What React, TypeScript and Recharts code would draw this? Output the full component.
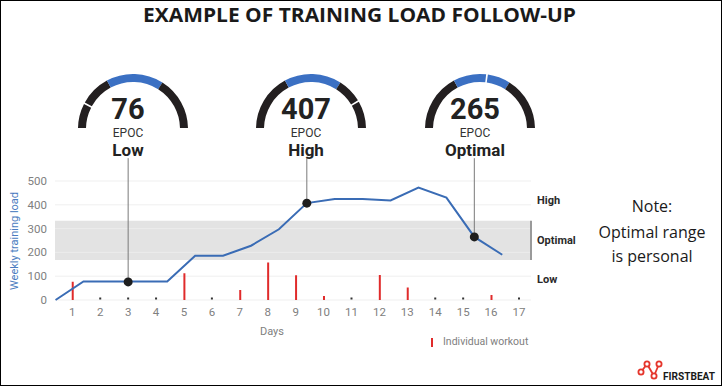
import React from "react";
import {
  ComposedChart,
  Line,
  Bar,
  Scatter,
  XAxis,
  YAxis,
  CartesianGrid,
  ReferenceArea,
  ReferenceLine,
  PieChart,
  Pie,
  Cell,
} from "recharts";

// --- data ---
const days = [1, 2, 3, 4, 5, 6, 7, 8, 9, 10, 11, 12, 13, 14, 15, 16, 17];
const workouts = [77, 0, 0, 0, 112, 0, 42, 158, 104, 17, 0, 105, 53, 0, 0, 21, 0];
const loadDays = [0.4, 1.4, 2.4, 3.4, 4.4, 5.4, 6.4, 7.4, 8.4, 9.4, 10.4, 11.4, 12.4, 13.4, 14.4, 15.4, 16.4];
const weeklyLoad = [0, 78, 78, 78, 78, 186, 186, 228, 297, 407, 424, 424, 418, 472, 430, 265, 190];
const yTicks = [0, 100, 200, 300, 400, 500];
const optimalRange = [168, 333];
const gaugeValues = [76, 407, 265];
const gaugeDays = [3, 9.4, 15.4];
const gaugeLabels = ["Low", "High", "Optimal"];
const zoneLabels = ["High", "Optimal", "Low"];
const gaugeMax = 490;

const xDomain = [0.38, 17.43];
const connectorTop = 596;

const BLUE = "#3a6cb5";
const GAUGE_BLUE = "#3b70c3";
const DARK = "#231f20";
const RED = "#e02b2b";
const TICK = "#808080";

const rows = [
  ...days.map((d, i) => ({ day: d, workout: workouts[i] > 0 ? workouts[i] : undefined })),
  ...loadDays.map((d, i) => ({ day: d, load: weeklyLoad[i] })),
].sort((a, b) => a.day - b.day);

const restDots = days.filter((_, i) => workouts[i] === 0).map((d) => ({ day: d, rest: 0 }));
const markers = gaugeDays.map((d, i) => ({ day: d, epoc: gaugeValues[i] }));

function gaugeSlices(value: number) {
  const bounds = [0, optimalRange[0], optimalRange[1], gaugeMax];
  const colors = [DARK, GAUGE_BLUE, DARK];
  const gap = 5;
  const out: { size: number; color: string }[] = [];
  for (let z = 0; z < 3; z++) {
    const a = bounds[z];
    const b = bounds[z + 1];
    if (value > a && value < b) {
      out.push({ size: value - gap / 2 - a, color: colors[z] });
      out.push({ size: gap, color: "transparent" });
      out.push({ size: b - value - gap / 2, color: colors[z] });
    } else {
      out.push({ size: b - a, color: colors[z] });
    }
  }
  return out;
}

const gaugeX = [128, 306, 475];
const gaugeY = 124;

function Txt({ x, y, children, style }: any) {
  return (
    <div
      style={{
        position: "absolute",
        left: x,
        top: y,
        transform: "translate(-50%, -50%)",
        whiteSpace: "nowrap",
        lineHeight: 1,
        ...style,
      }}
    >
      {children}
    </div>
  );
}

export default function App() {
  return (
    <div
      style={{
        position: "absolute",
        left: 0,
        top: 0,
        width: 722,
        height: 386,
        background: "#fff",
        fontFamily: "Roboto, sans-serif",
        overflow: "hidden",
      }}
    >
      <svg style={{ position: "absolute", left: 0, top: 0 }} width={722} height={40}>
        <text
          x={143}
          y={21.5}
          textLength={433}
          lengthAdjust="spacingAndGlyphs"
          fontFamily="'Open Sans', sans-serif"
          fontWeight={700}
          fontSize={20}
          fill="#1a1a1a"
        >
          EXAMPLE OF TRAINING LOAD FOLLOW-UP
        </text>
      </svg>

      <div style={{ position: "absolute", left: 0, top: 0 }}>
        <ComposedChart
          width={722}
          height={386}
          data={rows}
          margin={{ top: 181, right: 191, bottom: 56, left: 5 }}
        >
          <CartesianGrid horizontal vertical={false} stroke="#efefef" />
          <ReferenceArea y1={optimalRange[0]} y2={optimalRange[1]} fill="#e3e3e3" fillOpacity={1} stroke="none" />
          <ReferenceLine y={200} stroke="#ececec" />
          <ReferenceLine y={300} stroke="#ececec" />
          <ReferenceLine
            segment={[
              { x: xDomain[1], y: optimalRange[0] },
              { x: xDomain[1], y: optimalRange[1] },
            ]}
            stroke="#9a9a9a"
            strokeWidth={2}
            ifOverflow="visible"
          />
          <XAxis
            dataKey="day"
            type="number"
            domain={xDomain}
            ticks={days}
            interval={0}
            allowDataOverflow
            axisLine={false}
            tickLine={false}
            height={30}
            tick={{ fill: TICK, fontSize: 11.5 }}
          />
          <YAxis
            type="number"
            domain={[0, 500]}
            ticks={yTicks}
            axisLine={false}
            tickLine={false}
            width={50}
            tick={{ fill: TICK, fontSize: 11.5 }}
          />
          {gaugeDays.map((d, i) => (
            <ReferenceLine
              key={i}
              segment={[
                { x: d, y: gaugeValues[i] },
                { x: d, y: connectorTop },
              ]}
              stroke="#7a7a7a"
              strokeWidth={1}
              ifOverflow="visible"
            />
          ))}
          <Bar dataKey="workout" fill={RED} barSize={2} isAnimationActive={false} />
          <Line
            type="linear"
            dataKey="load"
            stroke={BLUE}
            strokeWidth={2}
            dot={false}
            connectNulls
            isAnimationActive={false}
          />
          <Scatter
            data={restDots}
            dataKey="rest"
            isAnimationActive={false}
            shape={(p: any) => <rect x={p.cx - 1} y={p.cy - 2.5} width={2} height={2} fill="#333" />}
          />
          <Scatter
            data={markers}
            dataKey="epoc"
            isAnimationActive={false}
            shape={(p: any) => <circle cx={p.cx} cy={p.cy} r={4.5} fill="#1e1e1e" />}
          />
        </ComposedChart>
      </div>

      {gaugeValues.map((v, i) => (
        <div key={i} style={{ position: "absolute", left: gaugeX[i] - 65, top: gaugeY - 62 }}>
          <PieChart width={130} height={66}>
            <Pie
              data={gaugeSlices(v)}
              dataKey="size"
              cx={65}
              cy={62}
              startAngle={180}
              endAngle={0}
              innerRadius={47}
              outerRadius={55}
              stroke="none"
              isAnimationActive={false}
            >
              {gaugeSlices(v).map((s, j) => (
                <Cell key={j} fill={s.color} />
              ))}
            </Pie>
          </PieChart>
        </div>
      ))}
      {gaugeValues.map((v, i) => (
        <React.Fragment key={i}>
          <Txt x={gaugeX[i]} y={108.5} style={{ fontSize: 29, fontWeight: 700, color: "#222" }}>
            {v}
          </Txt>
          <Txt x={gaugeX[i]} y={133} style={{ fontSize: 12, color: "#333" }}>
            EPOC
          </Txt>
          <Txt x={gaugeX[i]} y={150} style={{ fontSize: 17, fontWeight: 700, color: "#222" }}>
            {gaugeLabels[i]}
          </Txt>
        </React.Fragment>
      ))}

      <Txt x={14} y={241} style={{ fontSize: 11, color: "#4a7cc0", transform: "translate(-50%, -50%) rotate(-90deg)" }}>
        Weekly training load
      </Txt>
      <Txt x={272} y={331} style={{ fontSize: 11, color: TICK }}>
        Days
      </Txt>

      {zoneLabels.map((z, i) => (
        <div
          key={z}
          style={{
            position: "absolute",
            left: 537,
            top: [200, 240, 279][i],
            transform: "translateY(-50%)",
            fontSize: 11,
            fontWeight: 700,
            color: "#2a2a2a",
            lineHeight: 1,
          }}
        >
          {z}
        </div>
      ))}

      <div style={{ position: "absolute", left: 431, top: 338, width: 2, height: 9, background: RED }} />
      <div
        style={{
          position: "absolute",
          left: 443,
          top: 342,
          transform: "translateY(-50%)",
          fontSize: 10.5,
          color: TICK,
          lineHeight: 1,
        }}
      >
        Individual workout
      </div>

      <Txt x={652} y={206} style={{ fontFamily: "'Open Sans', sans-serif", fontSize: 16, color: "#1a1a1a" }}>
        Note:
      </Txt>
      <Txt x={652} y={232} style={{ fontFamily: "'Open Sans', sans-serif", fontSize: 16, color: "#1a1a1a" }}>
        Optimal range
      </Txt>
      <Txt x={652} y={256} style={{ fontFamily: "'Open Sans', sans-serif", fontSize: 16, color: "#1a1a1a" }}>
        is personal
      </Txt>

      <svg style={{ position: "absolute", left: 630, top: 358 }} width={92} height={28}>
        <g stroke="#e5362c" strokeWidth={1.8} fill="#fff">
          <line x1={11} y1={14} x2={17} y2={6} />
          <line x1={17} y1={6} x2={24} y2={18} />
          <line x1={24} y1={18} x2={29} y2={6} />
          <circle cx={11} cy={14} r={2.6} />
          <circle cx={17} cy={6} r={2.6} />
          <circle cx={24} cy={18} r={2.6} />
          <circle cx={29} cy={6} r={2.6} />
        </g>
        <text
          x={33}
          y={22}
          textLength={52}
          lengthAdjust="spacingAndGlyphs"
          fontFamily="Roboto, sans-serif"
          fontWeight={700}
          fontSize={11}
          fill="#1a1a1a"
        >
          FIRSTBEAT
        </text>
      </svg>

      <div
        style={{
          position: "absolute",
          left: 0,
          top: 0,
          width: 722,
          height: 386,
          border: "1px solid #000",
          boxSizing: "border-box",
          pointerEvents: "none",
        }}
      />
    </div>
  );
}
